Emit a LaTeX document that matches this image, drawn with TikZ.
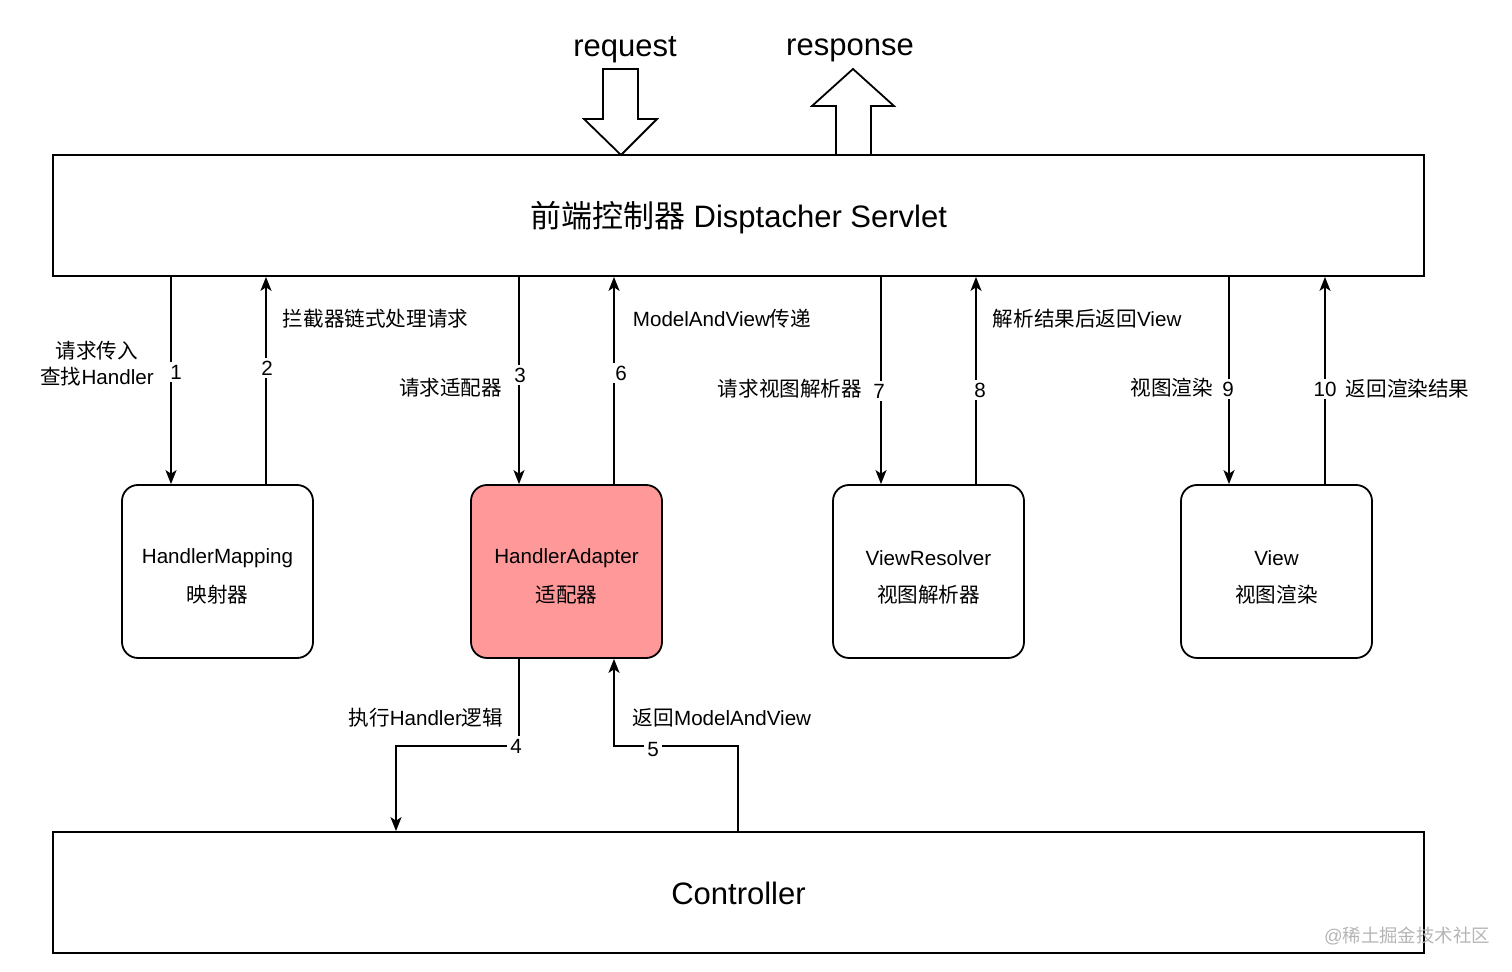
\documentclass[tikz,border=0pt]{standalone}
\usepackage{fontspec}
\setmainfont{Liberation Sans}
\newfontfamily\cjk{Noto Sans CJK SC}
\newcommand\zh[1]{{\cjk #1}}
\usetikzlibrary{arrows.meta}
\definecolor{hapink}{HTML}{FF9999}
\definecolor{wmgrey}{HTML}{B5B5B5}
\begin{document}
\begin{tikzpicture}[x=0.5pt,y=-0.5pt,
  line width=0.9pt,
  big/.style={draw, minimum width=685.5pt, minimum height=60.5pt, inner sep=0pt},
  comp/.style={draw, rounded corners=8pt, minimum width=95.5pt, minimum height=86.5pt, inner sep=0pt},
  boxtxt/.style={font=\fontsize{10.3}{13}\selectfont, inner sep=0pt},
  lbl/.style={font=\fontsize{10.3}{13}\selectfont, inner sep=1pt},
  num/.style={lbl, fill=white, inner sep=1.5pt},
  title/.style={font=\fontsize{15.5}{18}\selectfont, inner sep=0pt},
  arr/.style={-{Stealth[length=7pt,width=5.5pt,inset=1.8pt]}},
  blockarrow/.style={draw, fill=white, line join=miter},
]
\useasboundingbox (0,0) rectangle (1512,972);

% main nodes
\node[big] (ds) at (738.5,215.5) {};
\node[title] (dst) at (738.5,217.5) {\zh{前端控制器} Disptacher Servlet};
\node[big] (ctrl) at (738.5,892.5) {};
\node[title] (ctrlt) at (738.5,893.5) {Controller};
\node[comp] (hm) at (217.5,571.5) {};
\node[comp, fill=hapink] (ha) at (566.5,571.5) {};
\node[comp] (vr) at (928.5,571.5) {};
\node[comp] (vw) at (1276.5,571.5) {};
\node[boxtxt] (hm1) at (217.5,558) {HandlerMapping};
\node[boxtxt] (hm2) at (217.5,595) {\zh{映射器}};
\node[boxtxt] (ha1) at (566.5,558) {HandlerAdapter};
\node[boxtxt] (ha2) at (566.5,595) {\zh{适配器}};
\node[boxtxt] (vr1) at (928.5,558) {ViewResolver};
\node[boxtxt] (vr2) at (928.5,595) {\zh{视图解析器}};
\node[boxtxt] (vw1) at (1276.5,558) {View};
\node[boxtxt] (vw2) at (1276.5,595) {\zh{视图渲染}};

% request / response block arrows
\node[title] (req) at (625,50) {request};
\node[title] (resp) at (850,50) {response};
\draw[blockarrow] (603,69) -- (638,69) -- (638,119) -- (657,119) -- (621,155) -- (584,119) -- (603,119) -- cycle;
\draw[blockarrow] (836,155) -- (836,106) -- (812,106) -- (853,69) -- (894,106) -- (871,106) -- (871,155) -- cycle;

% x positions of the vertical connectors
\coordinate (x1) at (171,0);
\coordinate (x2) at (266,0);
\coordinate (x3) at (519,0);
\coordinate (x6) at (614,0);
\coordinate (x7) at (881,0);
\coordinate (x8) at (976,0);
\coordinate (x9) at (1229,0);
\coordinate (x10) at (1325,0);

\draw[arr] (ds.south -| x1) -- (hm.north -| x1);
\draw[arr] (hm.north -| x2) -- (ds.south -| x2);
\draw[arr] (ds.south -| x3) -- (ha.north -| x3);
\draw[arr] (ha.north -| x6) -- (ds.south -| x6);
\draw[arr] (ds.south -| x7) -- (vr.north -| x7);
\draw[arr] (vr.north -| x8) -- (ds.south -| x8);
\draw[arr] (ds.south -| x9) -- (vw.north -| x9);
\draw[arr] (vw.north -| x10) -- (ds.south -| x10);

% controller connectors
\coordinate (k4) at (519,746);
\coordinate (k4b) at (396,746);
\coordinate (k5) at (738,746);
\coordinate (k5b) at (614,746);
\draw[arr] (ha.south -| k4) -- (k4) -- (k4b) -- (ctrl.north -| k4b);
\draw[arr] (ctrl.north -| k5) -- (k5) -- (k5b) -- (ha.south -| k5b);

% labels
\node[lbl, align=center] (l1) at (97,364) {\zh{请求传入}\\\zh{查找}Handler};
\node[num] (n1) at (176,372) {1};
\node[lbl, anchor=west] (l2) at (280,319) {\zh{拦截器链式处理请求}};
\node[num] (n2) at (267,368) {2};
\node[lbl, anchor=east] (l3) at (505,388) {\zh{请求适配器}};
\node[num] (n3) at (520,375) {3};
\node[lbl, anchor=west] (l6) at (630,319) {ModelAndView\zh{传递}};
\node[num] (n6) at (621,373) {6};
\node[lbl, anchor=east] (l7) at (865,389) {\zh{请求视图解析器}};
\node[num] (n7) at (879,391) {7};
\node[lbl, anchor=west] (l8) at (990,319) {\zh{解析结果后返回}View};
\node[num] (n8) at (980,390) {8};
\node[lbl, anchor=east] (l9) at (1216,388) {\zh{视图渲染}};
\node[num] (n9) at (1228,389) {9};
\node[num] (n10) at (1325,389) {10};
\node[lbl, anchor=west] (l10) at (1343,389) {\zh{返回渲染结果}};
\node[lbl, anchor=east] (l4) at (506,718) {\zh{执行}Handler\zh{逻辑}};
\node[num] (n4) at (516,746) {4};
\node[lbl, anchor=west] (l5) at (630,718) {\zh{返回}ModelAndView};
\node[num] (n5) at (653,750) {5};

% watermark
\node[lbl, text=wmgrey, font=\fontsize{9.2}{11}\selectfont] (wm) at (1407,936) {@\zh{稀土掘金技术社区}};
\end{tikzpicture}
\end{document}
